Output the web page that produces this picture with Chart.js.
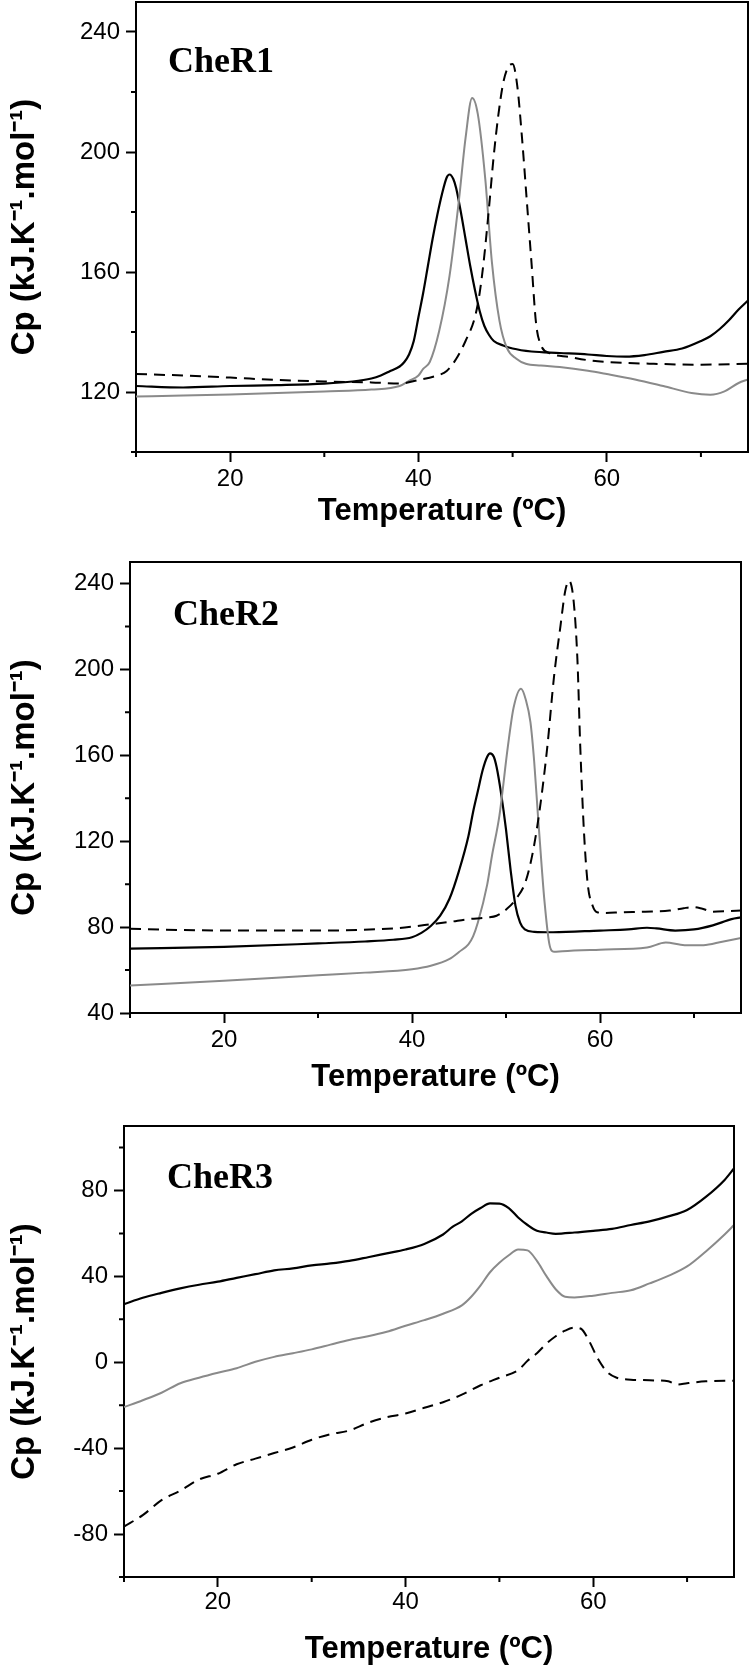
<!DOCTYPE html>
<html lang="en">
<head>
<meta charset="UTF-8">
<title>CheR1 / CheR2 / CheR3 DSC</title>
<script src="https://cdn.jsdelivr.net/npm/chart.js"></script>
<style>
  body { margin: 0; background: #fff; width: 750px; height: 1668px; position: relative; overflow: hidden; }
  canvas { position: absolute; left: 0; }
</style>
</head>
<body>
<canvas id="cher1" width="750" height="540" style="top:0px"></canvas>
<canvas id="cher2" width="750" height="560" style="top:540px"></canvas>
<canvas id="cher3" width="750" height="568" style="top:1100px"></canvas>
<script>
// ---- data (temperature in ºC, Cp in kJ.K-1.mol-1) ----

// CheR1
const r1BlackT  = [10, 15, 20, 25, 30, 33, 35, 36, 37, 38, 38.5, 39, 39.5, 40, 40.5, 41, 41.5, 42, 42.5, 43, 43.3, 43.7, 44, 44.5, 45, 45.5, 46, 46.5, 47, 47.5, 48, 49, 50, 52, 55, 58, 60, 62, 64, 66, 68, 70, 71, 72, 73, 74, 75];
const r1BlackCp = [122, 121.5, 122, 122.3, 122.8, 123.5, 124.5, 125.5, 127, 128.5, 130, 132.5, 137, 145, 153, 162, 171, 179, 186, 191.5, 192.5, 191, 188, 180, 171, 162, 154, 147, 142, 139, 137, 135.5, 134.5, 133.5, 133, 132.5, 132, 131.8, 132.3, 133.4, 134.5, 137, 138.6, 141, 144, 147.5, 150.5];
const r1GrayT   = [10, 15, 20, 25, 30, 35, 38, 39, 40, 40.5, 41.2, 42.2, 43.3, 44.3, 45, 45.7, 46.3, 47.1, 47.8, 48.6, 49.4, 50.4, 51.4, 53, 55, 58, 60, 63, 66, 69, 71, 72.5, 74, 75];
const r1GrayCp  = [118.5, 118.8, 119.2, 119.7, 120.2, 120.8, 122, 123.7, 125.5, 127.7, 130, 140.3, 158.7, 184, 204.6, 218, 212.7, 190.9, 163.3, 143.8, 134.6, 131.1, 129.4, 128.8, 128.3, 127.1, 126, 124.2, 122, 119.7, 119.1, 120.2, 123, 124.2];
const r1DashT   = [10, 15, 20, 25, 30, 35, 38, 40, 42, 43, 44, 45, 46, 46.5, 47, 47.5, 48, 48.5, 49, 49.5, 50, 50.5, 51, 51.5, 52, 52.5, 53, 54, 56, 58, 60, 65, 70, 75];
const r1DashCp  = [126, 125.5, 124.8, 124, 123.5, 123.2, 122.8, 124, 125.5, 127, 131, 137, 145, 153, 165.6, 181.7, 198.9, 212.7, 223, 228.2, 229.3, 221.9, 204.6, 184, 163.3, 142.6, 135.7, 132.9, 131.7, 130.6, 130, 129.4, 129.1, 129.4];

// CheR2
const r2BlackT  = [10, 20, 30, 35, 38, 40, 41, 42, 43, 44, 45, 46, 46.5, 47, 47.5, 48, 48.3, 48.7, 49, 49.5, 50, 50.5, 51, 51.5, 52, 53, 55, 60, 63, 65, 66, 68, 70, 72, 74, 75];
const r2BlackCp = [70, 70.8, 72.4, 73.3, 74.1, 75.3, 77.3, 80.5, 85.3, 93.3, 106.2, 122.3, 133.6, 143.2, 152.8, 159.3, 160.9, 159.3, 154.5, 141.6, 125.5, 106.2, 90.1, 82.1, 78.9, 77.8, 77.6, 78.4, 78.9, 79.7, 79.4, 78.4, 78.9, 80.8, 83.7, 84.5];
const r2GrayT   = [10, 20, 30, 35, 40, 42, 44, 45, 46, 46.5, 47, 48, 48.5, 49.3, 50.2, 50.8, 51.6, 52.1, 52.6, 53, 53.4, 53.8, 54.1, 54.6, 55.1, 56, 60, 65, 67, 69, 71, 73, 75];
const r2GrayCp  = [52.8, 55, 57.6, 58.8, 60.4, 62, 65.2, 68.4, 72, 75.7, 82, 99.8, 113, 131.9, 164.1, 182, 191, 186, 175.4, 157, 131.9, 108, 91.7, 72.4, 68.5, 68.8, 69.5, 70.5, 72.8, 71.6, 71.6, 73.2, 74.9];
const r2DashT   = [10, 20, 30, 38, 40, 42, 44, 46, 48, 49, 50.1, 51.1, 52.1, 52.9, 53.6, 54.4, 55.1, 55.8, 56.3, 56.7, 57.2, 57.6, 57.9, 58.3, 58.7, 59.2, 59.7, 60.5, 62.3, 64.8, 67.4, 68.9, 69.9, 70.9, 72, 73.5, 75];
const r2DashCp  = [79.2, 78.4, 78.4, 79.4, 80.2, 81.3, 82.4, 83.7, 84.5, 85.3, 88.5, 93.3, 101.4, 115.9, 135.2, 164.1, 196.3, 220.4, 236.5, 241.3, 231.6, 204.3, 164.1, 123.9, 99.8, 90.1, 86.9, 86.6, 86.9, 87.2, 87.7, 88.8, 89.3, 88.5, 87.2, 87.4, 87.7];

// CheR3
const r3BlackT  = [10, 12, 14, 16, 18, 20, 22, 24, 26, 28, 30, 32, 34, 36, 38, 40, 42, 44, 45, 46, 47, 48, 49, 50, 51, 52, 53, 54, 55, 56, 58, 60, 62, 64, 66, 68, 70, 72, 74, 75];
const r3BlackCp = [27, 30, 32.3, 34.4, 36.1, 37.5, 39.3, 41, 42.8, 43.7, 45.1, 46, 47.2, 48.9, 50.7, 52.5, 55.1, 59.5, 63, 65.6, 69.1, 71.8, 74, 73.9, 71.8, 67.4, 63.9, 61.2, 60.4, 59.8, 60.4, 61.2, 62.1, 63.9, 65.6, 67.9, 70.9, 77, 84.9, 90.2];
const r3GrayT   = [10, 12, 14, 16, 18, 20, 22, 24, 26, 28, 30, 32, 34, 36, 38, 40, 42, 44, 46, 47, 48, 49, 50, 51, 52, 53, 54, 55, 56, 57, 58, 60, 62, 64, 66, 68, 70, 72, 74, 75];
const r3GrayCp  = [-20.9, -17.7, -14.2, -9.8, -7.2, -4.9, -2.8, 0.2, 2.5, 4.2, 6, 8.2, 10.4, 12.1, 14.2, 17, 19.6, 22.6, 26.5, 30.5, 35.8, 41.9, 46.3, 49.8, 52.5, 52.1, 47.2, 40.2, 34, 30.5, 30.2, 31, 32.3, 33.5, 36.7, 40.2, 44.6, 51.6, 59.5, 63.9];
const r3DashT   = [10, 12, 14, 16, 18, 20, 22, 24, 26, 28, 30, 32, 34, 36, 38, 40, 42, 44, 46, 48, 50, 52, 53, 54, 55, 56, 57, 58, 58.7, 59.5, 60.5, 61.5, 62.5, 64, 66, 68, 69, 70, 72, 75];
const r3DashCp  = [-76.5, -71.2, -64.2, -59.8, -54.6, -51.9, -47.5, -44.9, -42.3, -39.7, -36.1, -33.5, -31.8, -28.2, -25.6, -23.9, -21.2, -18.6, -15.1, -10.7, -7.2, -3.7, 0.7, 4.2, 8.6, 12.1, 14.7, 16.1, 15.6, 10.4, 1.6, -4.6, -7.2, -8.1, -8.4, -8.9, -10.4, -9.8, -8.9, -8.6];

// ticks
const xMajorTicks = [20, 40, 60];
const xMinorTicks = [10, 30, 50, 70];
const r1YMajor = [120, 160, 200, 240];
const r1YMinor = [100, 140, 180, 220];
const r2YMajor = [40, 80, 120, 160, 200, 240];
const r2YMinor = [60, 100, 140, 180, 220];
const r3YMajor = [-80, -40, 0, 40, 80];
const r3YMinor = [-100, -60, -20, 20, 60, 100];

// ---- layout of each panel (canvas px) ----
const panels = [
  { id: 'cher1', label: 'CheR1', yMin: 100, yMax: 250, yMajor: r1YMajor, yMinor: r1YMinor,
    black: [r1BlackT, r1BlackCp], gray: [r1GrayT, r1GrayCp], dash: [r1DashT, r1DashCp],
    h: 540, left: 136, right: 748, top: 2, bottom: 452, xTitlePad: 10, xTickPad: 3, labelDx: 32, labelDy: 70 },
  { id: 'cher2', label: 'CheR2', yMin: 40, yMax: 250, yMajor: r2YMajor, yMinor: r2YMinor,
    black: [r2BlackT, r2BlackCp], gray: [r2GrayT, r2GrayCp], dash: [r2DashT, r2DashCp],
    h: 560, left: 130, right: 741, top: 22, bottom: 473, xTitlePad: 4, xTickPad: 3, labelDx: 43, labelDy: 63 },
  { id: 'cher3', label: 'CheR3', yMin: -100, yMax: 110, yMajor: r3YMajor, yMinor: r3YMinor,
    black: [r3BlackT, r3BlackCp], gray: [r3GrayT, r3GrayCp], dash: [r3DashT, r3DashCp],
    h: 568, left: 124, right: 734, top: 26, bottom: 477, xTitlePad: 0, xTickPad: 1, labelDx: 43, labelDy: 62 }
];

const tickFont = { family: "'Liberation Sans', Arial, sans-serif", size: 24 };
const titleFont = { family: "'Liberation Sans', Arial, sans-serif", size: 31, weight: 'bold' };

function points(T, Cp) {
  return T.map((t, i) => ({ x: t, y: Cp[i] }));
}

// frame on top/right, minor ticks and the panel name
const framePlugin = {
  id: 'frame',
  afterDraw(chart, args, opts) {
    const { ctx, chartArea: a, scales } = chart;
    ctx.save();
    ctx.strokeStyle = '#000';
    ctx.lineWidth = 2;
    ctx.beginPath();
    ctx.moveTo(a.left, a.top);
    ctx.lineTo(a.right, a.top);
    ctx.lineTo(a.right, a.bottom);
    ctx.stroke();
    ctx.beginPath();
    opts.xMinor.forEach(v => {
      const px = scales.x.getPixelForValue(v);
      ctx.moveTo(px, a.bottom);
      ctx.lineTo(px, a.bottom + 5);
    });
    opts.yMinor.forEach(v => {
      const py = scales.y.getPixelForValue(v);
      ctx.moveTo(a.left, py);
      ctx.lineTo(a.left - 5, py);
    });
    ctx.stroke();
    ctx.fillStyle = '#000';
    ctx.font = "bold 36px 'Liberation Serif', 'Times New Roman', serif";
    ctx.textBaseline = 'alphabetic';
    ctx.fillText(opts.label, a.left + opts.dx, a.top + opts.dy);
    ctx.restore();
  }
};

panels.forEach(p => {
  new Chart(document.getElementById(p.id), {
    type: 'line',
    data: {
      datasets: [
        { data: points(p.dash[0], p.dash[1]), borderColor: '#000', borderWidth: 2, borderDash: [11, 7] },
        { data: points(p.gray[0], p.gray[1]), borderColor: '#8a8a8a', borderWidth: 2 },
        { data: points(p.black[0], p.black[1]), borderColor: '#000', borderWidth: 2.2 }
      ]
    },
    options: {
      responsive: false,
      animation: false,
      events: [],
      parsing: false,
      elements: {
        point: { radius: 0 },
        line: { cubicInterpolationMode: 'monotone', fill: false }
      },
      layout: { padding: { left: 0, top: p.top, right: 750 - p.right, bottom: 0 } },
      plugins: {
        legend: { display: false },
        tooltip: { enabled: false },
        frame: { xMinor: xMinorTicks, yMinor: p.yMinor, label: p.label, dx: p.labelDx, dy: p.labelDy }
      },
      scales: {
        x: {
          type: 'linear',
          min: 10,
          max: 75,
          afterBuildTicks: s => { s.ticks = xMajorTicks.map(v => ({ value: v })); },
          afterFit: s => { s.height = p.h - p.bottom; s.paddingLeft = 0; s.paddingRight = 0; },
          grid: { drawOnChartArea: false, drawTicks: true, tickLength: 10, tickWidth: 2, tickColor: '#000' },
          border: { display: true, color: '#000', width: 2 },
          ticks: { font: tickFont, color: '#000', padding: p.xTickPad, maxRotation: 0, autoSkip: false },
          title: { display: true, text: 'Temperature (ºC)', font: titleFont, color: '#000', padding: { top: 0, bottom: p.xTitlePad } }
        },
        y: {
          type: 'linear',
          min: p.yMin,
          max: p.yMax,
          afterBuildTicks: s => { s.ticks = p.yMajor.map(v => ({ value: v })); },
          afterFit: s => { s.width = p.left; s.paddingTop = 0; s.paddingBottom = 0; },
          grid: { drawOnChartArea: false, drawTicks: true, tickLength: 10, tickWidth: 2, tickColor: '#000' },
          border: { display: true, color: '#000', width: 2 },
          ticks: { font: tickFont, color: '#000', padding: 6 },
          title: { display: true, text: 'Cp (kJ.K⁻¹.mol⁻¹)', font: { family: titleFont.family, size: 33, weight: 'bold' }, color: '#000', padding: { top: 5, bottom: 0 } }
        }
      }
    },
    plugins: [framePlugin]
  });
});
</script>
</body>
</html>
